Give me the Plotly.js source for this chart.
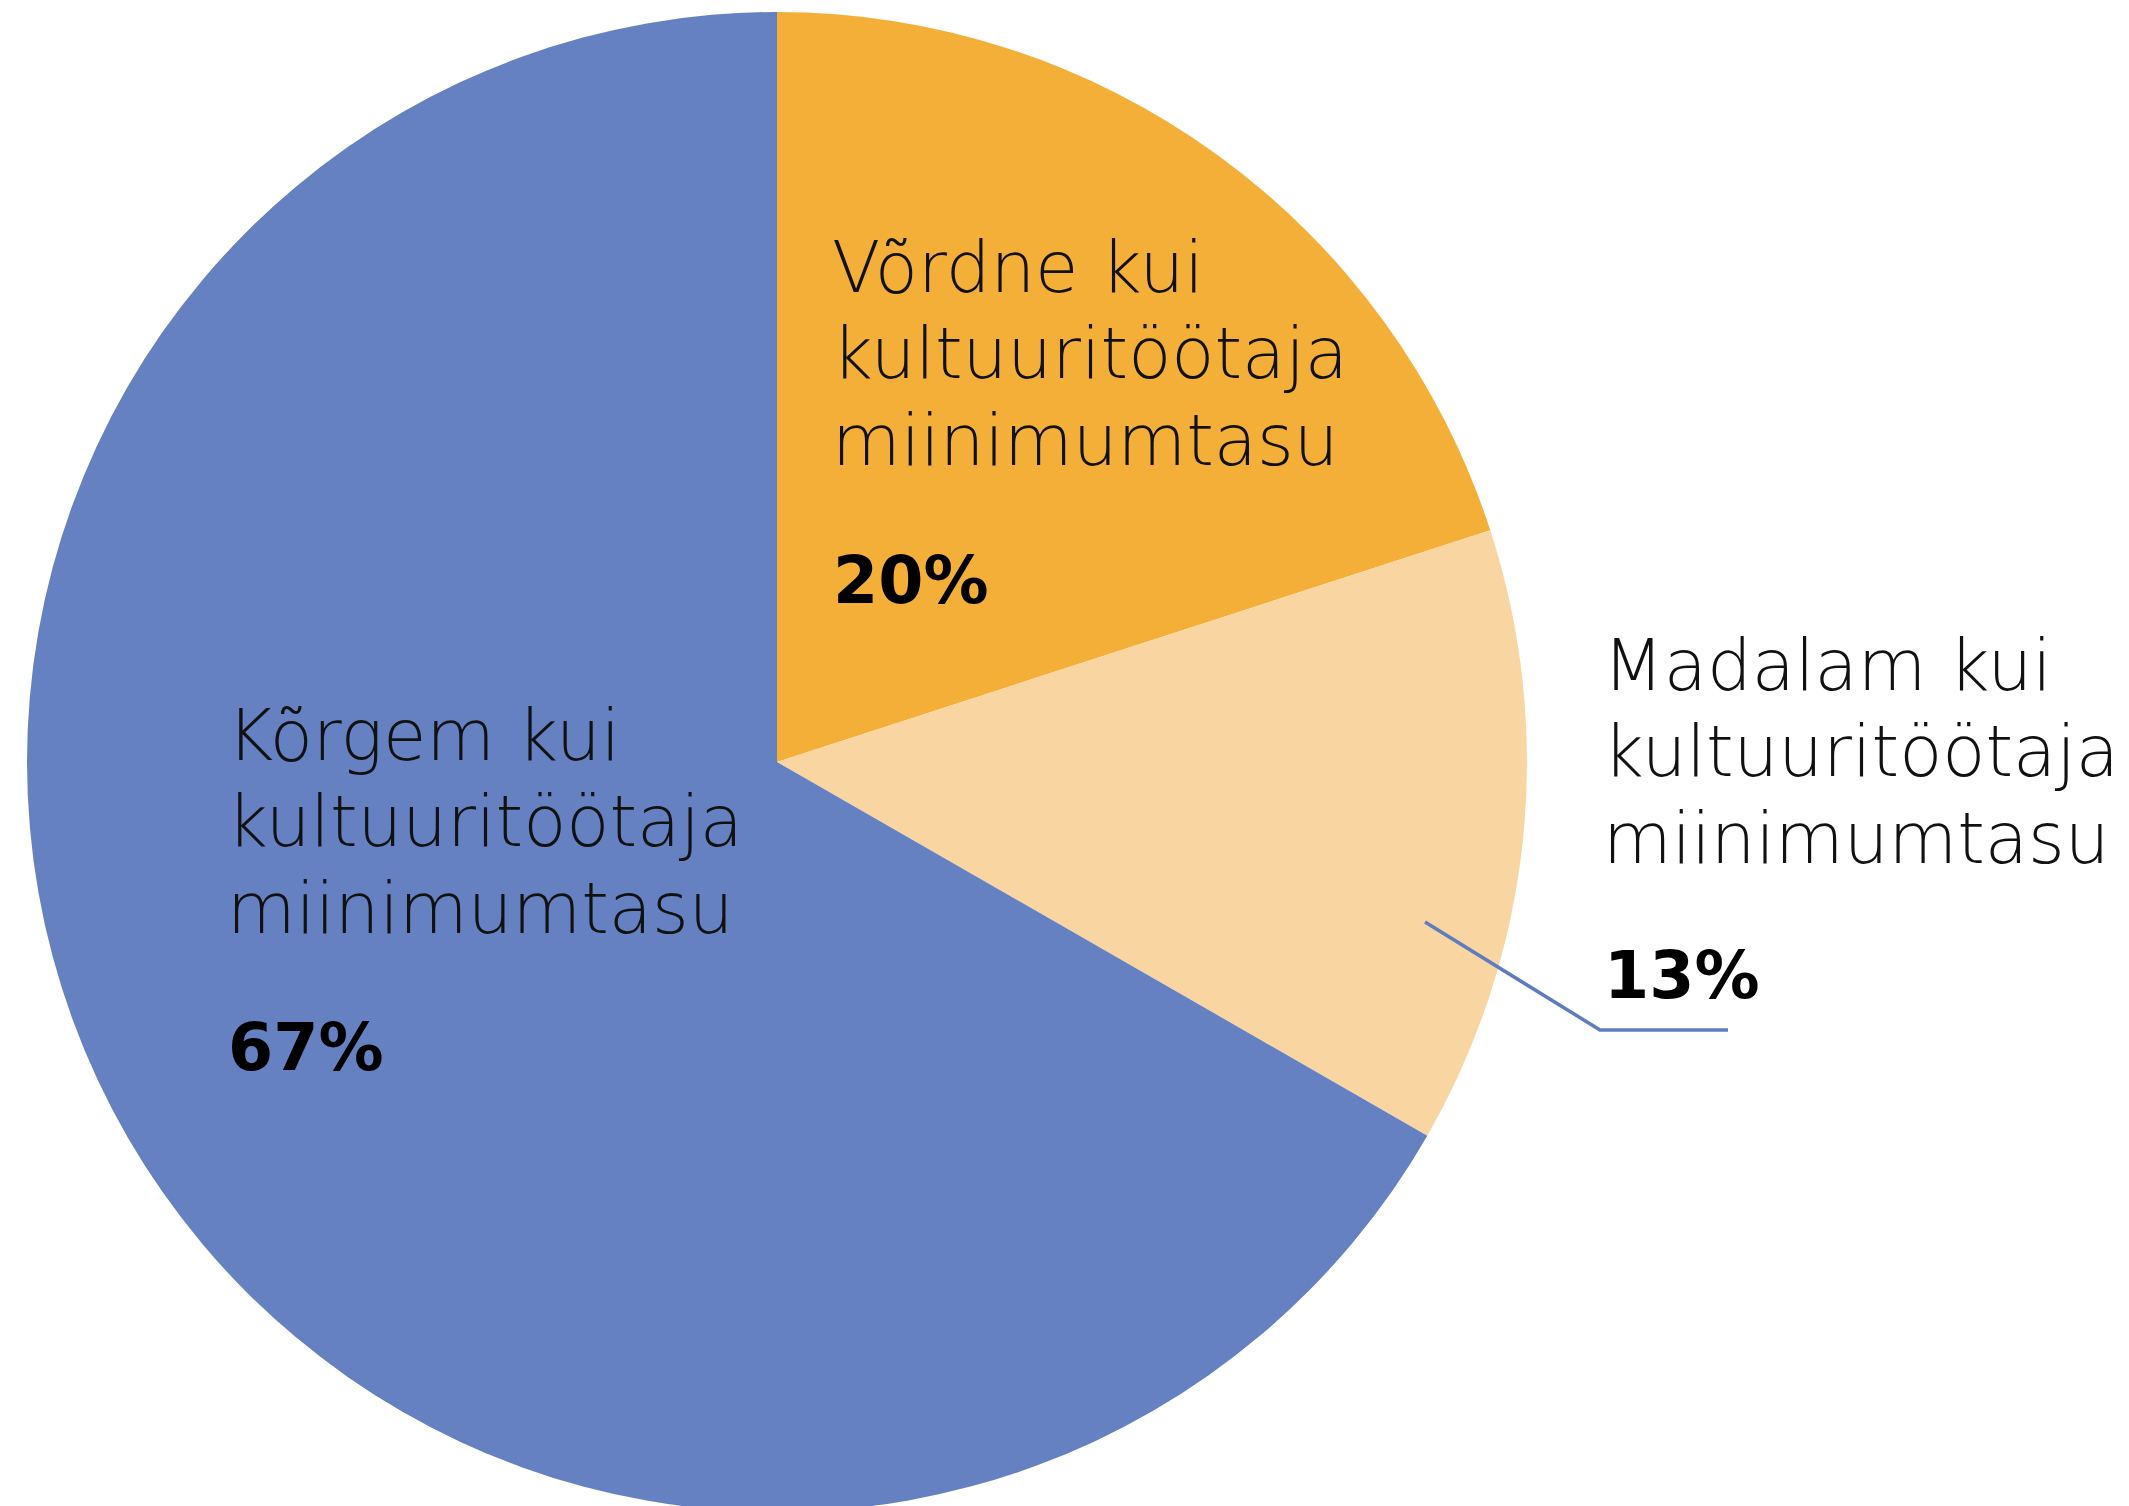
<!DOCTYPE html>
<html>
<head>
<meta charset="utf-8">
<script src="https://cdn.plot.ly/plotly-3.0.1.min.js"></script>
<style>
  html, body { margin: 0; padding: 0; background: #ffffff; overflow: hidden; width: 2129px; height: 1506px; }
  #chart { width: 2129px; height: 1512px; }
</style>
</head>
<body>
<div id="chart"></div>
<script>
// ---- data ----
const categories = [
  "Võrdne kui kultuuritöötaja miinimumtasu",
  "Madalam kui kultuuritöötaja miinimumtasu",
  "Kõrgem kui kultuuritöötaja miinimumtasu"
];
const shares = [20, 13.3, 66.7];
const pctLabels = ["20%", "13%", "67%"];
const labelLines = [
  ["Võrdne kui", "kultuuritöötaja", "miinimumtasu"],
  ["Madalam kui", "kultuuritöötaja", "miinimumtasu"],
  ["Kõrgem kui", "kultuuritöötaja", "miinimumtasu"]
];
const sliceColors = ["#F4AF38", "#F9D6A1", "#6681C2"];

// ---- layout helpers (pixel -> paper) ----
const W = 2129, H = 1512;
const px = x => x / W;
const py = y => 1 - y / H;

// label placement: left edge and first-line baseline, percent baseline (pixels)
const labelPos = [
  { x: 830, base: 292, pBase: 603 },
  { x: 1601, base: 690, pBase: 998 },
  { x: 225, base: 760, pBase: 1070 }
];
const lineStep = 86.5;

const textSize = 70.5, pctSize = 65;
const textFont = { family: "DejaVu Sans, Open Sans, sans-serif", size: textSize, color: "#111111", weight: 200 };
const pctFont = { family: "DejaVu Sans, Open Sans, sans-serif", size: pctSize, color: "#000000", weight: 700 };

const annotations = [];
categories.forEach((c, i) => {
  labelLines[i].forEach((ln, k) => {
    const b = labelPos[i].base + k * lineStep;
    annotations.push({
      xref: "paper", yref: "paper",
      x: px(labelPos[i].x), y: py(b - 0.346 * textSize),
      xanchor: "left", yanchor: "middle", align: "left",
      showarrow: false, text: ln, font: textFont
    });
  });
  annotations.push({
    xref: "paper", yref: "paper",
    x: px(labelPos[i].x + 1), y: py(labelPos[i].pBase - 0.346 * pctSize),
    xanchor: "left", yanchor: "middle", align: "left",
    showarrow: false, text: "<b>" + pctLabels[i] + "</b>", font: pctFont
  });
});

const trace = {
  type: "pie",
  labels: categories,
  values: shares,
  sort: false,
  direction: "clockwise",
  rotation: 0,
  textinfo: "none",
  hoverinfo: "none",
  marker: { colors: sliceColors, line: { width: 0 } },
  domain: { x: [px(27), px(1527)], y: [py(1512), py(12)] },
  showlegend: false
};

const layout = {
  width: W, height: H,
  margin: { l: 0, r: 0, t: 0, b: 0, pad: 0 },
  paper_bgcolor: "#ffffff",
  plot_bgcolor: "#ffffff",
  showlegend: false,
  annotations: annotations,
  shapes: [{
    type: "path",
    xref: "paper", yref: "paper",
    path: `M ${px(1425)} ${py(922)} L ${px(1600)} ${py(1030)} L ${px(1728)} ${py(1030)}`,
    line: { color: "#5F7CC0", width: 3.5 }
  }]
};

Plotly.newPlot("chart", [trace], layout, { displayModeBar: false, staticPlot: true });
</script>
</body>
</html>
